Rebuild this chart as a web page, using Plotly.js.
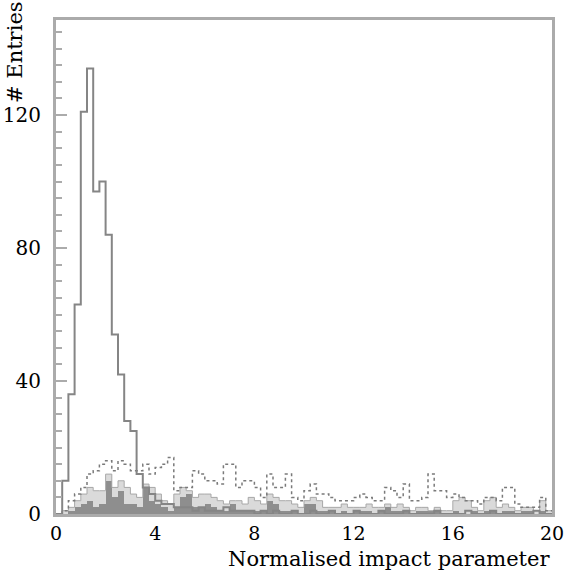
<!DOCTYPE html>
<html><head><meta charset="utf-8">
<script src="https://cdn.plot.ly/plotly-3.0.1.min.js"></script>
<style>html,body{margin:0;padding:0;background:#fff}</style>
</head><body><div id="chart" style="width:576px;height:570px"></div>
<script>
const xMin = 0;
const binWidth = 0.25;
const xTicks = [0, 4, 8, 12, 16, 20];
const yTicks = [0, 40, 80, 120];

const solid = [
  0,10,36,63,121,134,97,100,84,54,
  42,28,25,12,8,6,4,3,3,2,
  2,2,1,2,1,1,1,2,1,1,
  1,1,0,1,0,1,0,0,1,0,
  0,1,0,0,1,0,0,0,1,0,
  0,0,1,0,0,0,1,0,0,0,
  0,1,0,0,0,0,1,0,0,0,
  1,0,0,0,0,0,0,1,0,0
];
const dotted = [
  0,1,4,6,8,12,13,15,16,13,
  16,15,13,13,15,12,14,15,17,7,
  8,8,13,12,10,10,9,15,15,8,
  10,10,8,5,12,8,8,12,5,4,
  7,9,6,6,5,4,4,4,5,6,
  5,4,4,8,7,5,9,4,4,5,
  12,7,7,5,6,5,4,4,3,5,
  5,4,8,8,3,2,2,2,5,1
];
const shadedLight = [
  0,1,2,4,6,8,7,7,12,8,
  10,8,6,5,9,8,6,4,3,6,
  8,7,5,6,6,5,4,3,4,4,
  3,5,4,3,6,5,4,4,3,2,
  4,5,4,2,2,2,3,2,2,2,
  3,2,2,3,2,3,2,1,2,2,
  1,2,1,1,4,5,4,2,1,4,
  5,2,3,2,1,2,2,1,4,1
];
const shadedDark = [
  0,0,1,2,3,4,2,3,10,5,
  7,3,3,2,8,4,3,2,1,2,
  5,6,2,2,3,2,1,1,3,1,
  1,1,1,1,4,3,1,1,1,0,
  3,3,1,1,1,0,1,0,1,1,
  1,0,1,2,1,1,1,0,1,1,
  1,1,0,0,1,0,0,1,0,1,
  1,0,1,1,0,1,1,0,1,0
];

const nBins = solid.length;
const edges = Array.from({length: nBins + 1}, (_, i) => xMin + i * binWidth);
const centers = edges.slice(0, nBins).map(e => e + binWidth / 2);
const stepY = arr => arr.concat([arr[arr.length - 1]]);

const traces = [
  {type:'bar', x:centers, y:shadedLight, width:binWidth, marker:{color:'#dadada', line:{width:0}}, hoverinfo:'skip', showlegend:false},
  {type:'bar', x:centers, y:shadedDark, width:binWidth, marker:{color:'#8e8e8e', line:{width:0}}, hoverinfo:'skip', showlegend:false},
  {type:'scatter', mode:'lines', x:edges, y:stepY(shadedLight), line:{shape:'hv', color:'#a8a8a8', width:1}, showlegend:false},
  {type:'scatter', mode:'lines', x:edges, y:stepY(dotted), line:{shape:'hv', color:'#7a7a7a', width:1.5, dash:'dot'}, showlegend:false},
  {type:'scatter', mode:'lines', x:edges, y:stepY(solid), line:{shape:'hv', color:'#858585', width:2}, showlegend:false}
];

const layout = {
  width:576, height:570,
  margin:{l:56, r:24, t:20, b:56},
  paper_bgcolor:'#ffffff', plot_bgcolor:'#ffffff',
  barmode:'overlay', bargap:0,
  showlegend:false,
  xaxis:{
    range:[0,20], tickvals:xTicks, ticktext:xTicks.map(String),
    showline:true, linecolor:'#ababab', linewidth:3, mirror:true,
    ticks:'', showgrid:false, zeroline:false,
    tickfont:{family:'DejaVu Serif', size:19, color:'#000'}
  },
  yaxis:{
    range:[0,148.6], tickvals:yTicks, ticktext:yTicks.map(String),
    showline:true, linecolor:'#ababab', linewidth:3, mirror:true,
    ticks:'inside', ticklen:11, tickwidth:2, tickcolor:'#ababab',
    minor:{dtick:5, tick0:0, ticks:'inside', ticklen:6, tickwidth:2, tickcolor:'#ababab', showgrid:false},
    showgrid:false, zeroline:false, ticklabelstandoff:8,
    tickfont:{family:'DejaVu Serif', size:20, color:'#000'}
  },
  annotations:[
    {text:'Normalised impact parameter', xref:'paper', yref:'paper', x:1, y:-0.092, xanchor:'right', yanchor:'middle', showarrow:false, font:{family:'DejaVu Serif', size:21, color:'#000'}},
    {text:'# Entries', xref:'paper', yref:'paper', x:-0.083, y:0.935, xanchor:'center', yanchor:'middle', textangle:-90, showarrow:false, font:{family:'DejaVu Serif', size:21, color:'#000'}}
  ]
};

Plotly.newPlot('chart', traces, layout, {staticPlot:true, displayModeBar:false});
</script>
</body></html>
